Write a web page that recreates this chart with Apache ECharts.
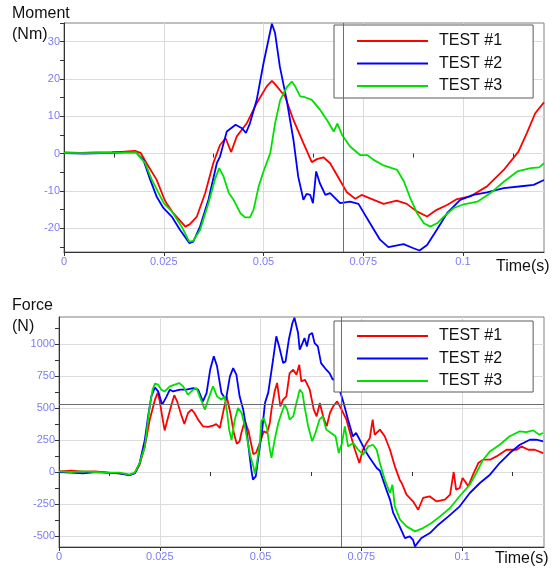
<!DOCTYPE html>
<html>
<head>
<meta charset="utf-8">
<title>Moment / Force</title>
<script src="https://cdn.jsdelivr.net/npm/echarts@6/dist/echarts.min.js"></script>
<style>
  html, body { margin: 0; padding: 0; background: #fff; }
</style>
</head>
<body>
<!-- chart container -->
<div id="main" style="width: 553px; height: 571px"></div>
<script>
// ---- data ----
var seriesNames = ["TEST #1", "TEST #2", "TEST #3"];
var seriesColors = ["#ff0000", "#0000ff", "#00e000"];

// tick labels
var timeLabels = [0, 0.025, 0.05, 0.075, 0.1];
var timeMinorTicks = [0.0125, 0.0375, 0.0625, 0.0875, 0.1125];
var momentLabels = [-20, -10, 0, 10, 20, 30];
var momentMinorTicks = [-25, -15, -5, 5, 15, 25, 35];
var forceLabels = [-500, -250, 0, 250, 500, 750, 1000];
var forceMinorTicks = [-375, -125, 125, 375, 625, 875, 1125];

// cursor lines
var cursorTime = 0.0705;
var cursorForce = 528;

// Moment (Nm)
var momT1 = [0, 0.004, 0.008, 0.012, 0.015, 0.0178, 0.0192, 0.0207, 0.0232, 0.0252, 0.0257, 0.0274, 0.0304, 0.0315, 0.0333, 0.0354, 0.0374, 0.0391, 0.0405, 0.0419, 0.0433, 0.0458, 0.0483, 0.0508, 0.0521, 0.0529, 0.0554, 0.0575, 0.060, 0.0621, 0.0634, 0.065, 0.0667, 0.0688, 0.0709, 0.073, 0.0746, 0.0767, 0.0801, 0.0834, 0.0859, 0.0884, 0.091, 0.0934, 0.096, 0.0985, 0.1018, 0.106, 0.1102, 0.1139, 0.116, 0.1181, 0.1203];
var momV1 = [0.3, 0.2, 0.3, 0.4, 0.5, 0.7, 0.2, -2.6, -7, -12.4, -13.3, -16, -19.6, -19, -16.9, -10.6, -2.6, 2.3, 4.1, 0.4, 4.6, 8.1, 13.5, 18, 19.5, 18.6, 15.3, 9, 2.8, -2.3, -1.5, -1, -2.6, -6.5, -10.4, -12.1, -11.1, -12, -13.5, -12.6, -13.5, -15.5, -16.9, -15.1, -13.8, -12.2, -11.5, -8.8, -4.4, 0.5, 5.5, 10.8, 13.7];

var momT2 = [0, 0.005, 0.01, 0.015, 0.018, 0.0199, 0.0216, 0.0232, 0.0249, 0.027, 0.0291, 0.0314, 0.0324, 0.0341, 0.0362, 0.0383, 0.0391, 0.0408, 0.0413, 0.043, 0.0446, 0.0456, 0.0466, 0.0483, 0.05, 0.0521, 0.0529, 0.0541, 0.0558, 0.0575, 0.0587, 0.060, 0.0608, 0.0617, 0.0624, 0.0632, 0.0641, 0.0655, 0.0667, 0.0692, 0.0717, 0.0738, 0.0767, 0.0792, 0.0813, 0.0851, 0.0876, 0.0891, 0.091, 0.0934, 0.096, 0.0993, 0.1026, 0.106, 0.1102, 0.1152, 0.1177, 0.1203];
var momV2 = [0.1, 0, 0.1, 0.3, 0.4, -1.7, -7, -11.5, -14.6, -16.9, -20.5, -24, -23.6, -19.6, -12.4, -2.6, -0.8, 5.9, 6.3, 7.7, 6.8, 5.5, 8.1, 14.4, 24.2, 34.8, 32.3, 23.3, 14.4, 3.7, -6.2, -12.4, -10.8, -11.1, -13.3, -4.8, -7.9, -11.1, -10.6, -13.3, -12.9, -13.5, -18.7, -23.1, -25.1, -24.3, -25.4, -26, -24.5, -20.5, -16, -12.4, -11.1, -10.4, -9.3, -8.7, -8.4, -7.1];

var momT3 = [0, 0.005, 0.01, 0.015, 0.018, 0.0203, 0.022, 0.025, 0.027, 0.0295, 0.0314, 0.0324, 0.0341, 0.0362, 0.0378, 0.0389, 0.040, 0.0413, 0.0425, 0.0442, 0.0454, 0.0466, 0.0475, 0.0488, 0.050, 0.0517, 0.0529, 0.0542, 0.0559, 0.0571, 0.058, 0.0592, 0.0604, 0.0621, 0.0642, 0.0659, 0.0676, 0.0685, 0.0697, 0.0717, 0.0742, 0.076, 0.0776, 0.0801, 0.0835, 0.0852, 0.0868, 0.0885, 0.0902, 0.0918, 0.0935, 0.0952, 0.0977, 0.1002, 0.1036, 0.1069, 0.1103, 0.1136, 0.117, 0.1191, 0.1203];
var momV3 = [0.2, 0.1, 0.2, 0.3, 0.4, -2.5, -7, -13.3, -15.5, -19.6, -23.6, -23.4, -20.5, -13.3, -7, -3.9, -6.2, -10.6, -12.4, -16, -17.1, -17.1, -15.1, -8.8, -4.8, 0.1, 8.1, 14.4, 17.9, 19.3, 17.9, 15.3, 15.1, 14.4, 11.7, 9, 5.9, 8, 5, 1.9, -0.4, -0.4, -1.7, -3.2, -4.4, -7.5, -12, -16, -18.7, -19.6, -18.7, -16.9, -14.6, -13.6, -12.9, -10.6, -7.5, -4.8, -3.9, -3.7, -2.6];

// Force (N)
var frcT1 = [0, 0.003, 0.006, 0.009, 0.012, 0.015, 0.0175, 0.0188, 0.020, 0.0213, 0.0225, 0.0238, 0.0245, 0.025, 0.0256, 0.0262, 0.0268, 0.0279, 0.0286, 0.0293, 0.0303, 0.0311, 0.032, 0.0329, 0.0336, 0.0345, 0.0357, 0.037, 0.0382, 0.039, 0.0399, 0.0408, 0.0416, 0.0425, 0.0434, 0.0441, 0.0448, 0.0452, 0.0461, 0.047, 0.0482, 0.0489, 0.0498, 0.0508, 0.0516, 0.0523, 0.0527, 0.0535, 0.0541, 0.0549, 0.0556, 0.0564, 0.0572, 0.0581, 0.0589, 0.0596, 0.0601, 0.061, 0.0622, 0.0632, 0.0639, 0.0647, 0.0655, 0.0664, 0.0672, 0.068, 0.069, 0.0701, 0.0713, 0.0722, 0.0734, 0.0745, 0.0754, 0.0763, 0.0771, 0.0778, 0.0783, 0.0796, 0.0808, 0.0821, 0.0833, 0.0845, 0.085, 0.0862, 0.0878, 0.0891, 0.0903, 0.0919, 0.0936, 0.0957, 0.097, 0.0979, 0.0985, 0.0994, 0.1001, 0.1007, 0.1015, 0.1027, 0.104, 0.1052, 0.1069, 0.1085, 0.111, 0.1135, 0.1147, 0.1164, 0.118, 0.1201];
var frcV1 = [5, 10, 3, 5, -5, -10, -25, -10, 57, 200, 408, 565, 620, 552, 435, 325, 396, 526, 600, 552, 448, 375, 461, 487, 461, 409, 357, 352, 362, 375, 344, 480, 590, 461, 300, 220, 240, 300, 400, 320, 140, 150, 227, 318, 305, 383, 487, 630, 696, 513, 565, 591, 773, 799, 760, 838, 708, 721, 643, 487, 435, 539, 435, 357, 461, 513, 552, 487, 409, 305, 174, 70, 174, 227, 266, 409, 291, 331, 279, 174, 44, -60, -86, -177, -229, -295, -203, -190, -229, -216, -177, 0, -138, -125, -47, -73, -112, -21, 70, 96, 96, 122, 174, 174, 200, 174, 174, 148];

var frcT2 = [0, 0.003, 0.006, 0.009, 0.012, 0.015, 0.0175, 0.0188, 0.020, 0.0213, 0.0221, 0.0229, 0.0238, 0.0246, 0.0256, 0.0267, 0.0275, 0.0283, 0.030, 0.0316, 0.0333, 0.0345, 0.0357, 0.0366, 0.0375, 0.0384, 0.0392, 0.0403, 0.0414, 0.0424, 0.0432, 0.044, 0.0448, 0.0457, 0.0465, 0.0471, 0.0477, 0.0481, 0.0488, 0.0496, 0.0504, 0.0511, 0.0519, 0.0531, 0.0539, 0.0546, 0.0556, 0.0562, 0.057, 0.0579, 0.0584, 0.0593, 0.0597, 0.0604, 0.0609, 0.0615, 0.0621, 0.0628, 0.0634, 0.0642, 0.065, 0.0663, 0.0671, 0.0679, 0.0689, 0.0696, 0.0706, 0.0717, 0.0729, 0.0737, 0.075, 0.0763, 0.0771, 0.0788, 0.0796, 0.0812, 0.0821, 0.0829, 0.0845, 0.0858, 0.087, 0.0878, 0.0883, 0.0888, 0.0899, 0.092, 0.0941, 0.0966, 0.0994, 0.1019, 0.1044, 0.1069, 0.1093, 0.1118, 0.1143, 0.1168, 0.1184, 0.1201];
var frcV2 = [0, -5, -10, 0, -5, -10, -25, -10, 70, 253, 435, 591, 660, 630, 526, 591, 643, 630, 643, 643, 656, 643, 552, 617, 800, 904, 826, 617, 565, 747, 812, 760, 591, 487, 331, 175, 18, -60, -34, 149, 331, 540, 620, 877, 1060, 981, 851, 864, 1033, 1164, 1205, 1086, 955, 1007, 1047, 981, 1073, 1086, 1007, 981, 851, 799, 773, 721, 734, 643, 539, 409, 278, 305, 227, 148, 109, 31, 10, -138, -216, -320, -425, -516, -503, -530, -581, -560, -516, -477, -412, -347, -268, -164, -86, -21, 70, 148, 213, 252, 252, 239];

var frcT3 = [0, 0.003, 0.006, 0.009, 0.012, 0.015, 0.0175, 0.0188, 0.020, 0.0213, 0.0224, 0.0232, 0.0238, 0.0246, 0.0254, 0.0262, 0.0275, 0.0287, 0.0298, 0.0308, 0.032, 0.0333, 0.0341, 0.0349, 0.0362, 0.037, 0.0382, 0.0392, 0.0403, 0.0411, 0.0417, 0.0422, 0.0428, 0.0436, 0.0444, 0.0453, 0.0461, 0.0467, 0.0475, 0.0482, 0.0486, 0.0491, 0.0498, 0.0502, 0.0508, 0.0516, 0.0523, 0.0527, 0.0535, 0.0544, 0.0552, 0.056, 0.0566, 0.0572, 0.0581, 0.0589, 0.0597, 0.0604, 0.0609, 0.0618, 0.0628, 0.0636, 0.0646, 0.0654, 0.0663, 0.0675, 0.0686, 0.0694, 0.0702, 0.0709, 0.0717, 0.073, 0.0742, 0.0754, 0.0767, 0.0779, 0.0788, 0.0796, 0.0808, 0.0821, 0.0827, 0.0833, 0.0846, 0.0862, 0.0883, 0.0903, 0.0924, 0.0945, 0.097, 0.099, 0.1019, 0.1035, 0.1052, 0.1069, 0.1093, 0.1118, 0.1143, 0.1159, 0.1176, 0.1191, 0.1201];
var frcV3 = [5, 0, 5, 0, -5, -5, -20, -5, 70, 200, 487, 643, 690, 682, 643, 630, 669, 682, 695, 669, 604, 643, 656, 591, 487, 565, 669, 591, 565, 591, 461, 331, 250, 409, 500, 461, 357, 253, 123, 44, -15, 70, 227, 400, 420, 340, 174, 110, 253, 383, 461, 526, 487, 409, 435, 539, 643, 617, 513, 357, 240, 305, 409, 435, 331, 305, 279, 148, 227, 357, 200, 227, 174, 135, 200, 213, 174, 70, -60, -164, -99, -268, -373, -425, -464, -438, -399, -347, -281, -203, -99, -8, 96, 161, 213, 279, 318, 312, 326, 292, 305];

var timeMax = 0.1203;
var momentMin = -26.4, momentMax = 35;
var forceMin = -586, forceMax = 1211;

// zip time and value arrays into [t, v] pairs
function pairs(ts, vs) {
  return ts.map(function (t, i) { return [t, vs[i]]; });
}

var tickColor = "#7b7bf5";
var labelFont = "'Liberation Sans Narrow', 'Liberation Sans', Arial, sans-serif";
var textFont = "'Liberation Sans', Arial, sans-serif";

// plain number, no thousands separator
function plain(v) {
  return String(v);
}

// main x axis: labels, ticks and vertical grid lines
function xMain(grid) {
  return {
    type: "value", gridIndex: grid, position: "bottom", min: 0, max: timeMax,
    axisLine: { show: true, onZero: false, lineStyle: { color: "#333", width: 1 } },
    axisTick: { show: true, customValues: timeLabels, length: 4, lineStyle: { color: "#333" } },
    axisLabel: { customValues: timeLabels, formatter: plain, color: tickColor, fontSize: 11, fontFamily: labelFont, margin: 4 },
    splitLine: { show: true, lineStyle: { color: "#dcdcdc", width: 1 } }
  };
}
// extra x axis that only draws the in-between ticks
function xMinor(grid) {
  return {
    type: "value", gridIndex: grid, position: "bottom", min: 0, max: timeMax,
    axisLine: { show: false },
    axisTick: { show: true, customValues: timeMinorTicks, length: 4, lineStyle: { color: "#333" } },
    axisLabel: { show: false },
    splitLine: { show: false }
  };
}
function yMain(grid, lo, hi, labels) {
  return {
    type: "value", gridIndex: grid, position: "left", min: lo, max: hi,
    axisLine: { show: true, onZero: false, lineStyle: { color: "#333", width: 1 } },
    axisTick: { show: true, customValues: labels, length: 4, lineStyle: { color: "#333" } },
    axisLabel: { customValues: labels, formatter: plain, color: tickColor, fontSize: 11, fontFamily: labelFont, margin: 4 },
    splitLine: { show: true, lineStyle: { color: "#dcdcdc", width: 1 } }
  };
}
function yMinor(grid, lo, hi, ticks) {
  return {
    type: "value", gridIndex: grid, position: "left", min: lo, max: hi,
    axisLine: { show: false },
    axisTick: { show: true, customValues: ticks, length: 4, lineStyle: { color: "#333" } },
    axisLabel: { show: false },
    splitLine: { show: false }
  };
}

function lineSeries(i, grid, ts, vs, markData) {
  var s = {
    name: seriesNames[i],
    type: "line",
    xAxisIndex: grid * 2,
    yAxisIndex: grid * 2,
    data: pairs(ts, vs),
    symbol: "none",
    sampling: false,
    clip: true,
    lineStyle: { color: seriesColors[i], width: 1.8 },
    itemStyle: { color: seriesColors[i] }
  };
  if (markData) {
    s.markLine = {
      silent: true,
      symbol: "none",
      label: { show: false },
      lineStyle: { color: "#6e6e6e", type: "solid", width: 1 },
      data: markData
    };
  }
  return s;
}

function legendAt(top, pad) {
  return {
    orient: "vertical",
    left: 334,
    top: top,
    data: seriesNames,
    icon: "rect",
    itemWidth: 71,
    itemHeight: 2,
    itemGap: 6.5,
    padding: pad,
    backgroundColor: "#fff",
    borderColor: "#5a5a5a",
    borderWidth: 1,
    textStyle: { fontSize: 16, lineHeight: 16, color: "#111", fontFamily: textFont, padding: [0, 0, 0, 6] }
  };
}

function label(text, left, top) {
  return {
    type: "text", left: left, top: top,
    style: { text: text, fontSize: 16, fontFamily: textFont, fill: "#111" }
  };
}

var chart = echarts.init(document.getElementById("main"));
chart.setOption({
  animation: false,
  backgroundColor: "#fff",
  grid: [
    { left: 64, top: 23, width: 480, height: 229, show: true, borderColor: "#808080", borderWidth: 1 },
    { left: 59, top: 317, width: 485, height: 230, show: true, borderColor: "#808080", borderWidth: 1 }
  ],
  xAxis: [xMain(0), xMinor(0), xMain(1), xMinor(1)],
  yAxis: [
    yMain(0, momentMin, momentMax, momentLabels), yMinor(0, momentMin, momentMax, momentMinorTicks),
    yMain(1, forceMin, forceMax, forceLabels), yMinor(1, forceMin, forceMax, forceMinorTicks)
  ],
  legend: [legendAt(25, [8, 31, 4, 23]), legendAt(321, [7, 31, 3, 23])],
  graphic: [
    label("Moment", 12, 6),
    label("(Nm)", 12, 27),
    label("Time(s)", 496, 259),
    label("Force", 12, 298),
    label("(N)", 12, 319),
    label("Time(s)", 495, 551)
  ],
  series: [
    lineSeries(0, 0, momT1, momV1, [{ xAxis: cursorTime }]),
    lineSeries(1, 0, momT2, momV2),
    lineSeries(2, 0, momT3, momV3),
    lineSeries(0, 1, frcT1, frcV1, [{ xAxis: cursorTime }, { yAxis: cursorForce }]),
    lineSeries(1, 1, frcT2, frcV2),
    lineSeries(2, 1, frcT3, frcV3)
  ]
});
window.addEventListener("resize", function () {
  chart.resize();
});
</script>
</body>
</html>
